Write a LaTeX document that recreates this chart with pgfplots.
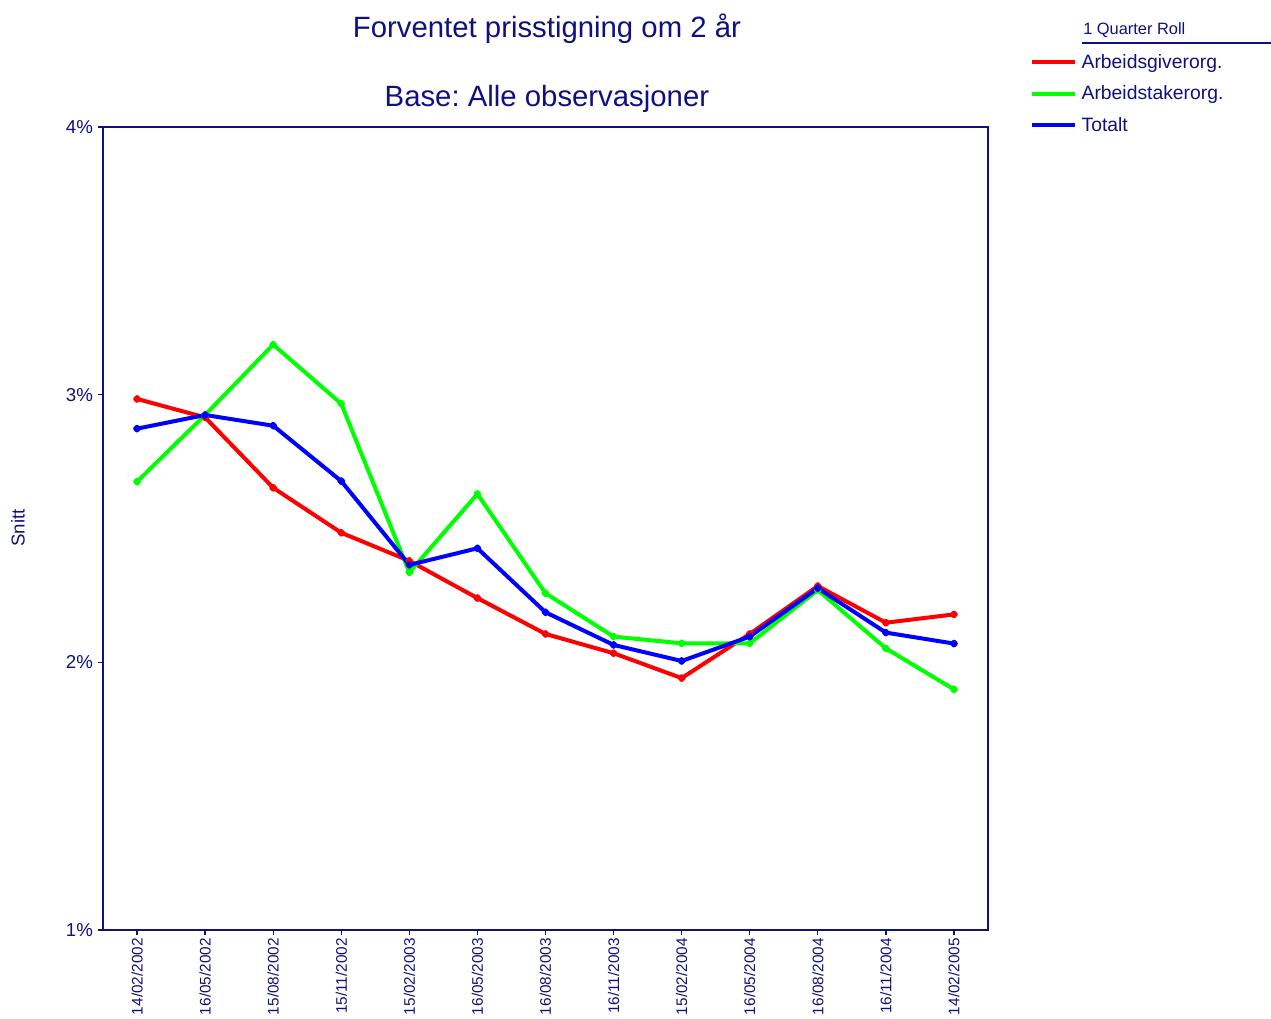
\documentclass[border=0pt]{standalone}
\usepackage{pgfplots}
\pgfplotsset{compat=1.18}
\usepackage{fontspec}
\setmainfont{Liberation Sans}
\frenchspacing
\definecolor{navyc}{RGB}{16,16,128}
\definecolor{cred}{RGB}{255,0,0}
\definecolor{cgreen}{RGB}{0,255,0}
\definecolor{cblue}{RGB}{0,0,255}
\begin{document}
\begin{tikzpicture}
\path[use as bounding box] (0,0) rectangle (953.25pt,764.25pt);
\begin{axis}[
  at={(77.25pt,66.75pt)}, anchor=south west,
  scale only axis, width=663.75pt, height=602.25pt,
  xmin=-0.5, xmax=12.5, ymin=1, ymax=4,
  xtick={0,...,12},
  xticklabels={14/02/2002,16/05/2002,15/08/2002,15/11/2002,15/02/2003,16/05/2003,16/08/2003,16/11/2003,15/02/2004,16/05/2004,16/08/2004,16/11/2004,14/02/2005},
  xticklabel style={rotate=90, anchor=east, font=\fontsize{11.5pt}{13pt}\selectfont, text=navyc, inner sep=2pt},
  ytick={1,2,3,4},
  yticklabels={1\%,2\%,3\%,4\%},
  yticklabel style={font=\fontsize{14pt}{16pt}\selectfont, text=navyc},
  tick align=outside, xtick pos=left, ytick pos=left,
  major tick length=4pt,
  every tick/.style={navyc, line width=1pt},
  axis line style={navyc, line width=1.3pt},
  legend style={at={(1.0475,1.094)}, anchor=north west, draw=none, fill=none,
    font=\fontsize{14.5pt}{16pt}\selectfont, text=navyc, row sep=7.6pt, inner sep=0pt},
  legend cell align=left,
  legend image code/.code={\draw[#1, line width=3pt] (0pt,0pt) -- (32pt,0pt); \path (33.5pt,0pt);},
  every axis plot/.append style={line width=3pt, line join=round, mark=*, mark size=1.4pt},
]
\addplot[cred, mark options={fill=cred, draw=cred}] coordinates {
(0,2.984) (1,2.915) (2,2.652) (3,2.484) (4,2.379) (5,2.240) (6,2.106) (7,2.034) (8,1.941) (9,2.106) (10,2.285) (11,2.148) (12,2.179)};
\addlegendentry{Arbeidsgiverorg.}
\addplot[cgreen, mark options={fill=cgreen, draw=cgreen}] coordinates {
(0,2.675) (1,2.924) (2,3.187) (3,2.966) (4,2.336) (5,2.629) (6,2.258) (7,2.096) (8,2.071) (9,2.071) (10,2.270) (11,2.052) (12,1.899)};
\addlegendentry{Arbeidstakerorg.}
\addplot[cblue, mark options={fill=cblue, draw=cblue}] coordinates {
(0,2.873) (1,2.924) (2,2.884) (3,2.677) (4,2.364) (5,2.426) (6,2.187) (7,2.065) (8,2.005) (9,2.096) (10,2.277) (11,2.111) (12,2.070)};
\addlegendentry{Totalt}
\end{axis}
\node[text=navyc, font=\fontsize{22pt}{25pt}\selectfont] at (410.2pt,742.5pt) {Forventet prisstigning om 2 år};
\node[text=navyc, font=\fontsize{22pt}{25pt}\selectfont] at (410.2pt,690pt) {Base: Alle observasjoner};
\node[text=navyc, font=\fontsize{14pt}{16pt}\selectfont, rotate=90] at (13.5pt,368.25pt) {Snitt};
\node[text=navyc, font=\fontsize{12.3pt}{14pt}\selectfont, anchor=west, inner sep=0pt] at (812.25pt,741.75pt) {1 Quarter Roll};
\draw[navyc, line width=1pt] (811.5pt,732pt) -- (953.25pt,732pt);
\end{tikzpicture}
\end{document}
